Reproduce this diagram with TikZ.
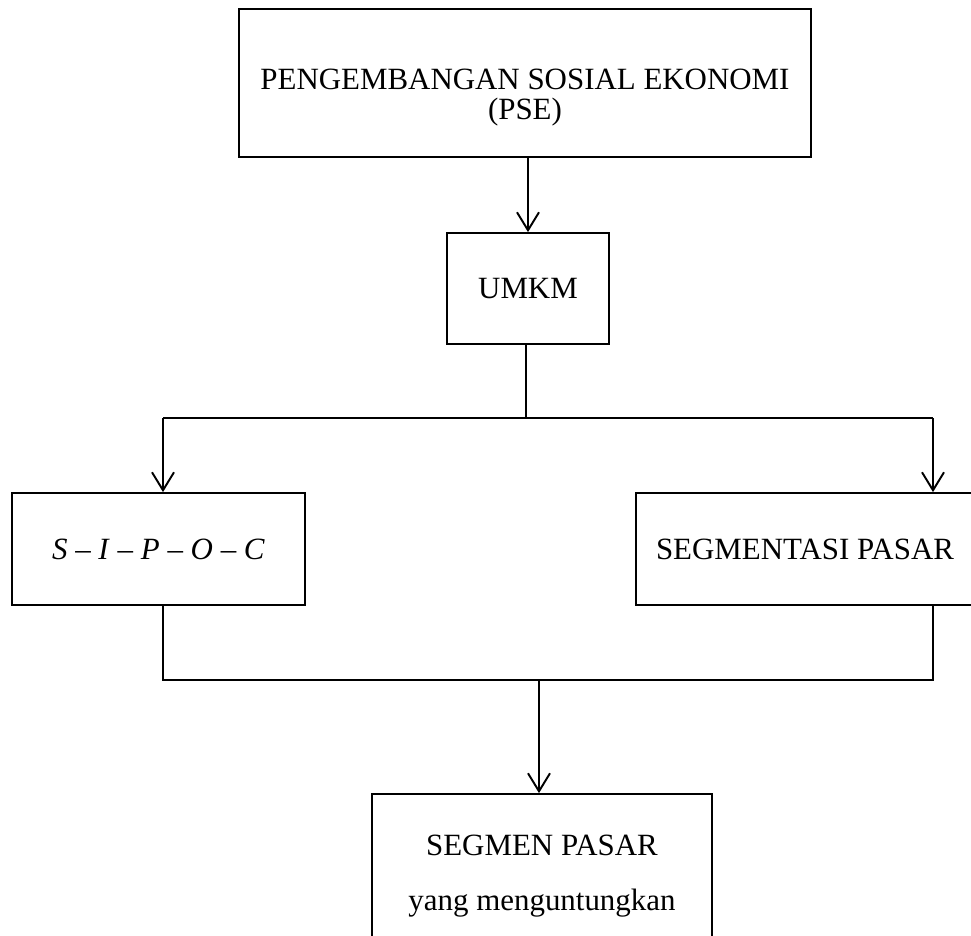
\documentclass[tikz,border=0pt]{standalone}
\usepackage{fontspec}
\setmainfont{Liberation Serif}
\usetikzlibrary{arrows.meta,calc}

\tikzset{
  kotak/.style={draw, line width=1pt, inner sep=0pt, align=center,
    font=\fontsize{17.6}{20}\selectfont},
  panah/.style={line width=0.7pt, -{Straight Barb[length=0.36cm,width=0.44cm,line width=1.1pt]}},
  garis/.style={line width=0.7pt}
}

\begin{document}
\begin{tikzpicture}[x=0.02cm,y=-0.02cm]
            \useasboundingbox (0,0) rectangle (971,936);
            \node[kotak, minimum width=572*0.02cm, minimum height=148*0.02cm,
                  font=\fontsize{17.6}{17}\selectfont] at (525,83) (pse)
                {\rule{0pt}{28pt}PENGEMBANGAN SOSIAL EKONOMI\\(PSE)};
            \node[kotak, minimum width=162*0.02cm, minimum height=111*0.02cm] at (528,288.5) (umkm) {UMKM};
            \node[kotak, minimum width=293*0.02cm, minimum height=112*0.02cm] at (158.5,549) (sipoc)
                {\textit{S} -- \textit{I} -- \textit{P} -- \textit{O} -- \textit{C}};
            \node[kotak, minimum width=338*0.02cm, minimum height=112*0.02cm] at (805,549) (segmentasi)
                {SEGMENTASI PASAR};
            \node[kotak, minimum width=340*0.02cm, minimum height=164*0.02cm,
                  font=\fontsize{17.6}{31.3}\selectfont] at (542,876) (hasil)
                {SEGMEN PASAR\\yang menguntungkan};
            \coordinate (cabang) at (526,418);
            \coordinate (kiri) at (163,418);
            \coordinate (kanan) at (933,418);
            \coordinate (gabung) at (539,680);
            \draw[panah] (pse.south -| umkm.north) -- (umkm.north);
            \draw[garis] (umkm.south -| cabang) -- (cabang)
            (kiri) -- (kanan);
            \draw[panah] (kiri) -- (kiri |- sipoc.north);
            \draw[panah] (kanan) -- (kanan |- segmentasi.north);
            \draw[garis] (kiri |- sipoc.south) |- (gabung)
            (kanan |- segmentasi.south) |- (gabung);
            \draw[panah] (gabung) -- (gabung |- hasil.north);
        \end{tikzpicture}
\end{document}
